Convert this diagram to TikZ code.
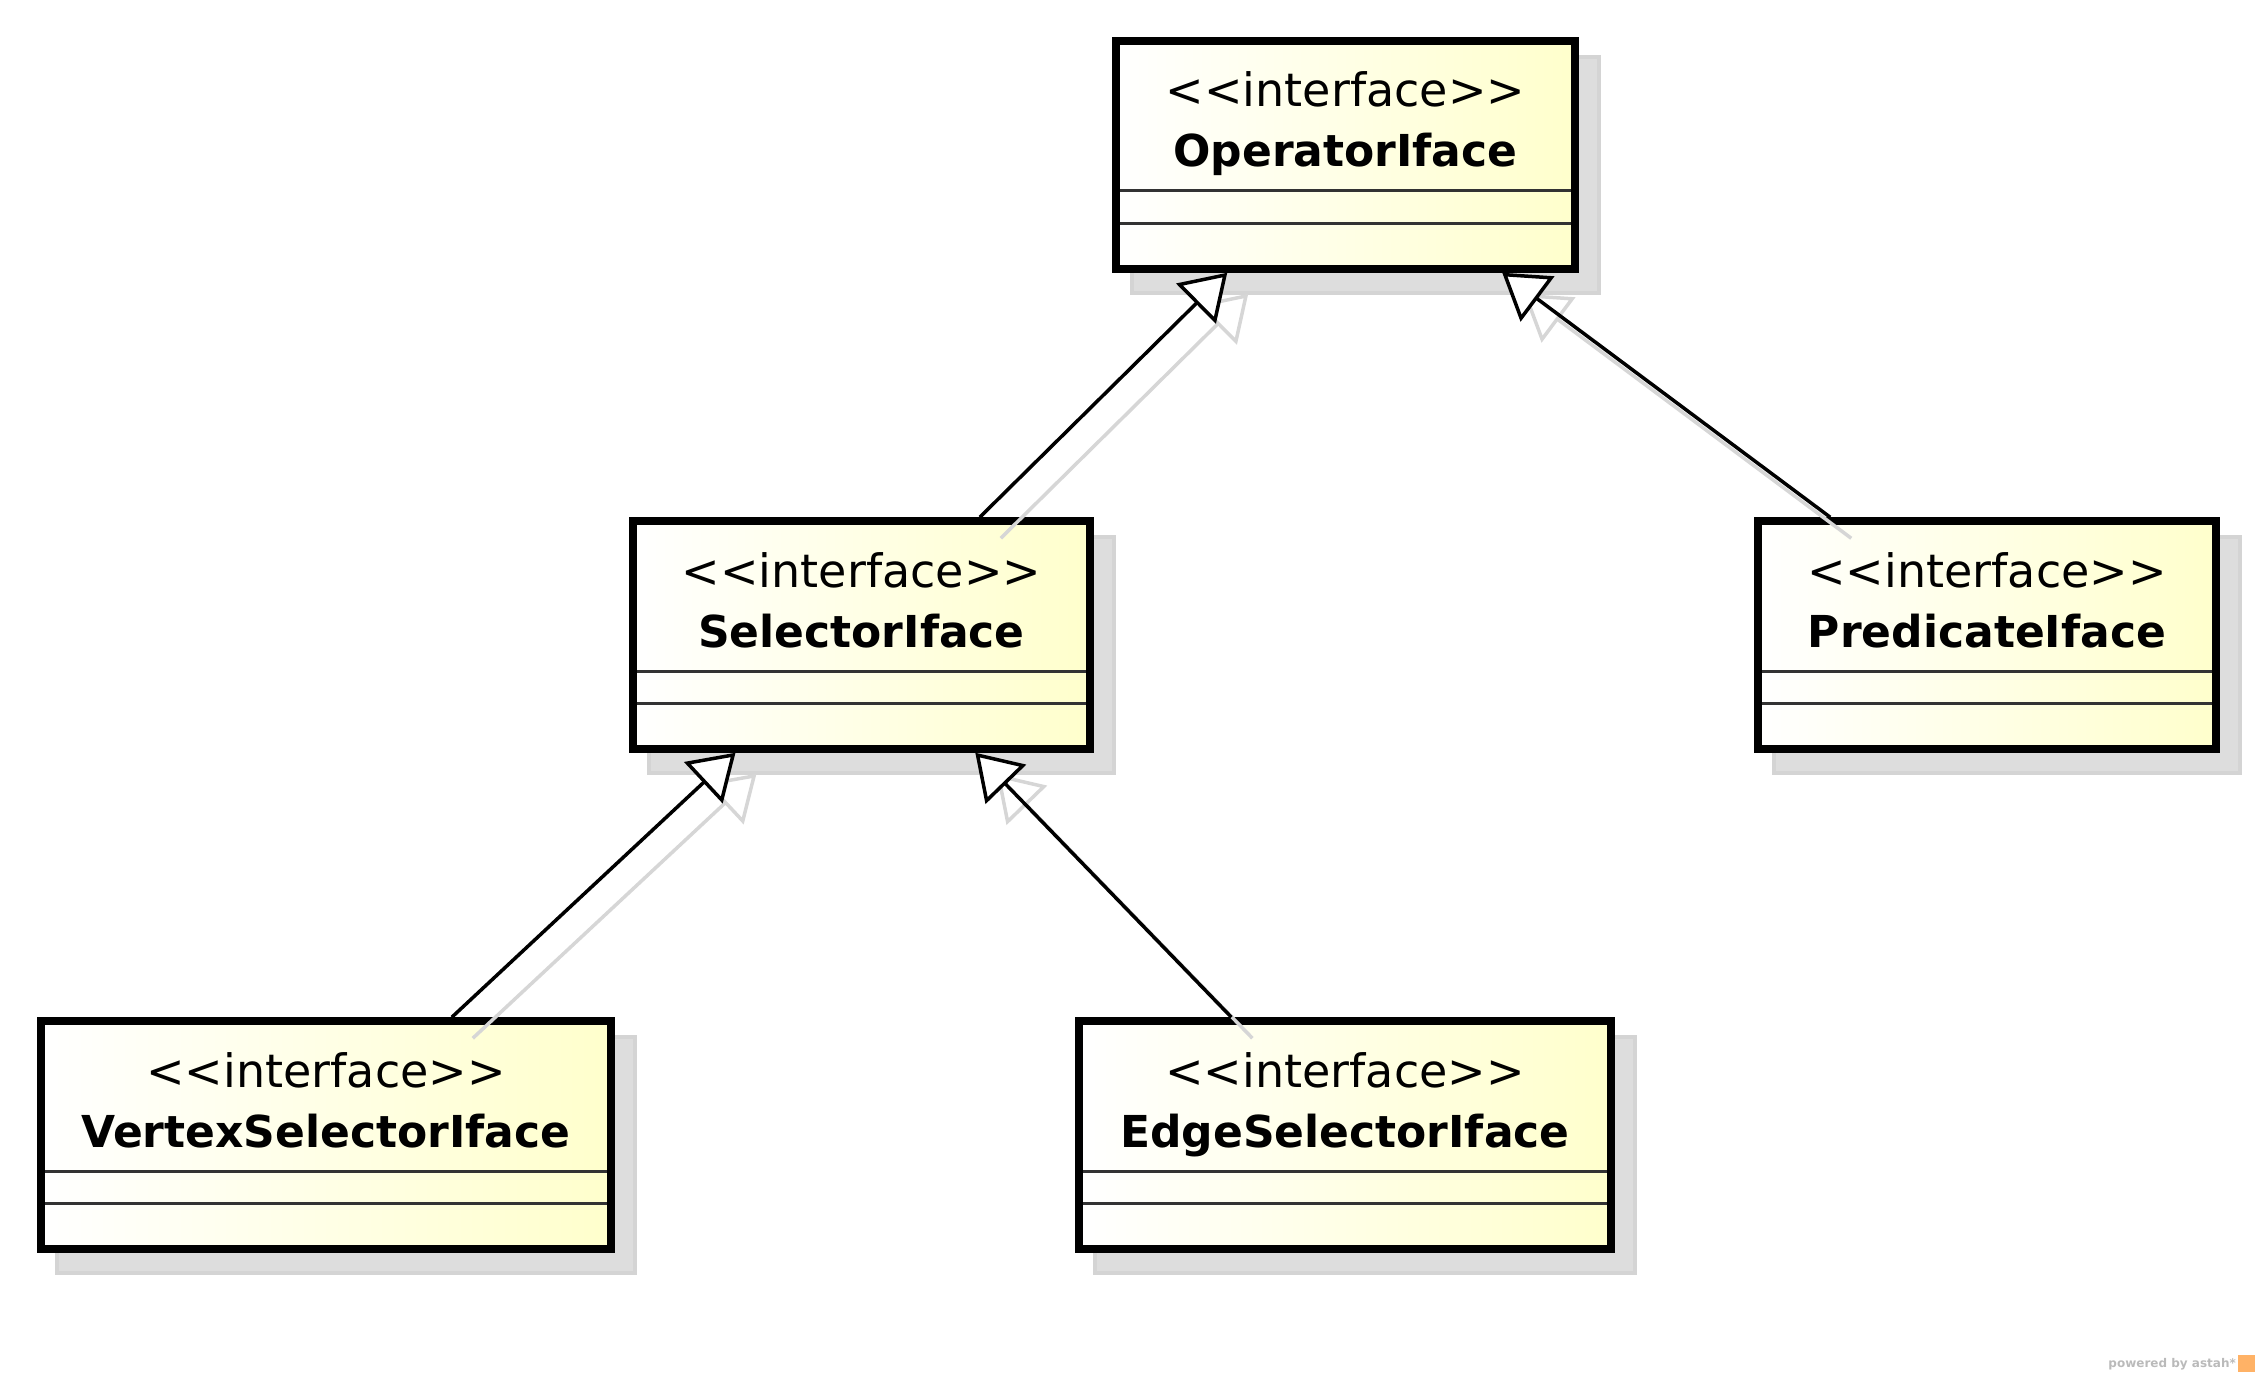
\documentclass[tikz,border=0pt]{standalone}
\usepackage{fontspec}
\setmainfont{DejaVu Sans}
\usetikzlibrary{positioning}
\usetikzlibrary{arrows.meta, backgrounds}
\definecolor{classyellow}{RGB}{255,255,204}
\definecolor{shadowgray}{RGB}{221,221,221}

\begin{document}
\begin{tikzpicture}[x=1pt, y=-1pt,
        classbox/.style={draw, line width=7.5pt, left color=white, right color=classyellow,
            minimum height=228pt, inner sep=0pt,
            path picture={
                \draw[line width=3pt, black!80]
                    ([yshift=-150pt]path picture bounding box.north west) -- ([yshift=-150pt]path picture bounding box.north east)
                    ([yshift=-182pt]path picture bounding box.north west) -- ([yshift=-182pt]path picture bounding box.north east);
            }},
        classtitle/.style={align=center, inner sep=0pt, outer sep=0pt, font=\fontsize{46}{60}\selectfont},
        boxshadow/.style={fill=shadowgray, draw=black!17, line width=4pt},
        extends/.style={line width=3.5pt, -{Triangle[length=44pt, width=56pt, fill=white]}},
        extendsshadow/.style={line width=3.5pt, black!16, -{Triangle[open, length=44pt, width=56pt]},
            transform canvas={shift={(21pt,-21pt)}}}
    ]
        \useasboundingbox (0,0) rectangle (2258,1375);
        % Classes
        \node[classbox, minimum width=459pt] (op) at (1345.5,155) {};
        \node[classbox, minimum width=457pt] (sel) at (861.5,635) {};
        \node[classbox, minimum width=458pt] (pred) at (1987,635) {};
        \node[classbox, minimum width=570pt] (vert) at (326,1135) {};
        \node[classbox, minimum width=532pt] (edge) at (1345,1135) {};
        % Names
        \node[classtitle, below=24.75pt of op.north] (opname)
            {\rule{0pt}{45pt}<\kern0pt<interface>\kern0pt>\\\fontsize{44}{60}\selectfont\bfseries OperatorIface};
        \node[classtitle, below=24.75pt of sel.north] (selname)
            {\rule{0pt}{45pt}<\kern0pt<interface>\kern0pt>\\\fontsize{44}{60}\selectfont\bfseries SelectorIface};
        \node[classtitle, below=24.75pt of pred.north] (predname)
            {\rule{0pt}{45pt}<\kern0pt<interface>\kern0pt>\\\fontsize{44}{60}\selectfont\bfseries PredicateIface};
        \node[classtitle, below=24.75pt of vert.north] (vertname)
            {\rule{0pt}{45pt}<\kern0pt<interface>\kern0pt>\\\fontsize{44}{60}\selectfont\bfseries VertexSelectorIface};
        \node[classtitle, below=24.75pt of edge.north] (edgename)
            {\rule{0pt}{45pt}<\kern0pt<interface>\kern0pt>\\\fontsize{44}{60}\selectfont\bfseries EdgeSelectorIface};
        % Shadows
        \begin{scope}[on background layer]
            \foreach \n in {op,sel,pred,vert,edge}
                \draw[boxshadow] ([shift={(20pt,-20pt)}]\n.north west) rectangle ([shift={(20pt,-20pt)}]\n.south east);
        \end{scope}
        % Generalizations
        \foreach \a/\b in {sel/op, pred/op, vert/sel, edge/sel}
            \draw[extendsshadow] (\a) -- (\b);
        \foreach \a/\b in {sel/op, pred/op, vert/sel, edge/sel}
            \draw[extends] (\a) -- (\b);
        % Footer
        \node[anchor=base east, inner sep=0pt, text=black!27, font=\fontsize{12}{14}\selectfont\bfseries] (astah) at (2236,1367) {powered by astah*};
        \node[fill=orange!60, inner sep=0pt, minimum size=17pt, right=2pt of astah.east] (astahlogo) {};
    \end{tikzpicture}
\end{document}
